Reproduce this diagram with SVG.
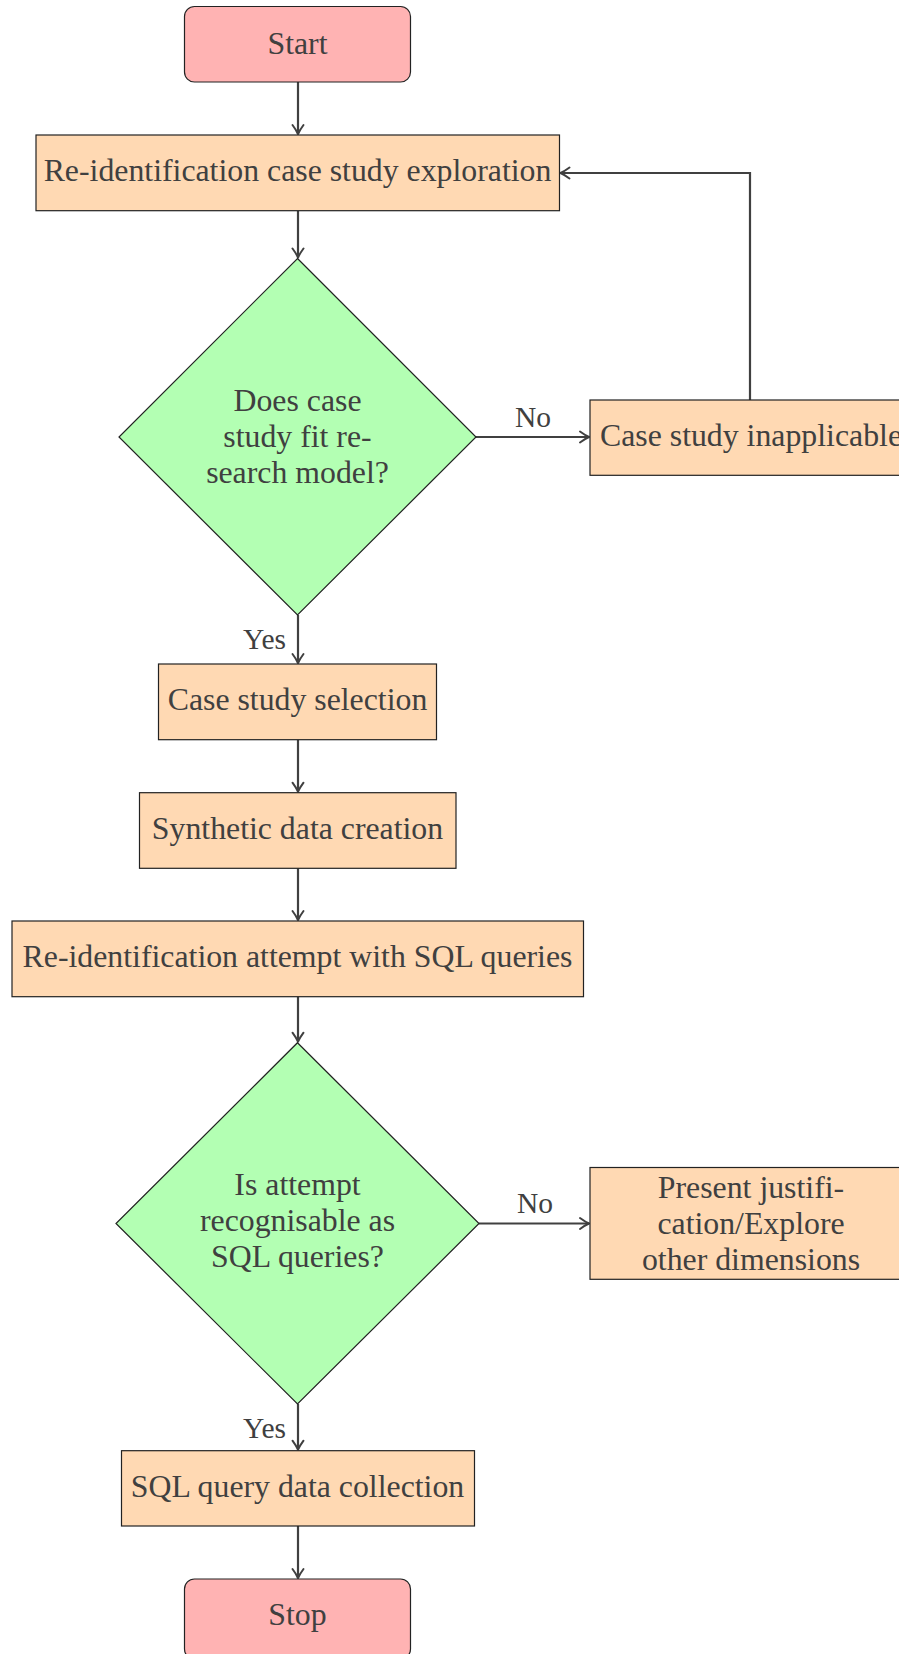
<svg xmlns="http://www.w3.org/2000/svg" width="899" height="1654" viewBox="0 0 899 1654">
<style>
.t{font-family:"Liberation Serif","DejaVu Serif",serif;font-size:31.8px;fill:#404040;text-anchor:middle}
.lbl{font-family:"Liberation Serif","DejaVu Serif",serif;font-size:29.5px;fill:#404040}
.term{fill:#FFB3B3;stroke:#222;stroke-width:1.2}
.proc{fill:#FFD9B3;stroke:#222;stroke-width:1.2}
.dec{fill:#B3FFB3;stroke:#222;stroke-width:1.2}
.c{fill:none;stroke:#404040;stroke-width:2.2;marker-end:url(#arr)}
</style>
<defs>
<marker id="arr" markerUnits="userSpaceOnUse" markerWidth="16" markerHeight="16" refX="0" refY="0" viewBox="-12 -8 14 16" orient="auto" overflow="visible">
<path d="M -9 -5.5 Q -3.5 -1.5 0 0 Q -3.5 1.5 -9 5.5" fill="none" stroke="#404040" stroke-width="2" stroke-linecap="round" stroke-linejoin="round"/>
</marker>
</defs>
<g id="connectors">
<path class="c" d="M298 82 V134"/>
<path class="c" d="M298 211 V257.5"/>
<path class="c" d="M476 437 H589"/>
<path class="c" d="M750 400 V173 H560.5"/>
<path class="c" d="M298 615 V663"/>
<path class="c" d="M298 740 V791.7"/>
<path class="c" d="M298 868.3 V920"/>
<path class="c" d="M298 996.7 V1041.7"/>
<path class="c" d="M479 1223.5 H589"/>
<path class="c" d="M298 1404 V1449.7"/>
<path class="c" d="M298 1526 V1578"/>
<text class="lbl" x="533" y="427" text-anchor="middle">No</text>
<text class="lbl" x="286" y="649" text-anchor="end">Yes</text>
<text class="lbl" x="535" y="1213" text-anchor="middle">No</text>
<text class="lbl" x="286" y="1438" text-anchor="end">Yes</text>
</g>
<g id="start">
<rect class="term" x="184.5" y="6.5" width="226" height="75.5" rx="10"/>
<text class="t" x="297.5" y="54">Start</text>
</g>
<g id="explore">
<rect class="proc" x="36" y="135" width="523.5" height="75.7"/>
<text class="t" x="297.5" y="181">Re-identification case study exploration</text>
</g>
<g id="decision1">
<polygon class="dec" points="297.5,258.5 476,437 297.5,615 119,437"/>
<text class="t" x="297.5" y="411">Does case</text>
<text class="t" x="297.5" y="447">study fit re-</text>
<text class="t" x="297.5" y="483">search model?</text>
</g>
<g id="inapplicable">
<rect class="proc" x="590" y="400" width="322" height="75.3"/>
<text class="t" x="751" y="446">Case study inapplicable</text>
</g>
<g id="selection">
<rect class="proc" x="158.5" y="664" width="278" height="75.7"/>
<text class="t" x="297.5" y="710">Case study selection</text>
</g>
<g id="synthetic">
<rect class="proc" x="139.5" y="792.7" width="316.5" height="75.6"/>
<text class="t" x="297.5" y="839">Synthetic data creation</text>
</g>
<g id="attempt">
<rect class="proc" x="12" y="921" width="571.5" height="75.7"/>
<text class="t" x="297.5" y="967">Re-identification attempt with SQL queries</text>
</g>
<g id="decision2">
<polygon class="dec" points="297.5,1042.7 479,1223.5 297.5,1404 116,1223.5"/>
<text class="t" x="297.5" y="1195">Is attempt</text>
<text class="t" x="297.5" y="1231">recognisable as</text>
<text class="t" x="297.5" y="1267">SQL queries?</text>
</g>
<g id="justification">
<rect class="proc" x="590" y="1167.5" width="322" height="111.8"/>
<text class="t" x="751" y="1198">Present justifi-</text>
<text class="t" x="751" y="1234">cation/Explore</text>
<text class="t" x="751" y="1270">other dimensions</text>
</g>
<g id="collection">
<rect class="proc" x="121.5" y="1450.7" width="353" height="75.3"/>
<text class="t" x="297.5" y="1497">SQL query data collection</text>
</g>
<g id="stop">
<rect class="term" x="184.5" y="1579" width="226" height="80" rx="10"/>
<text class="t" x="297.5" y="1625">Stop</text>
</g>
</svg>
